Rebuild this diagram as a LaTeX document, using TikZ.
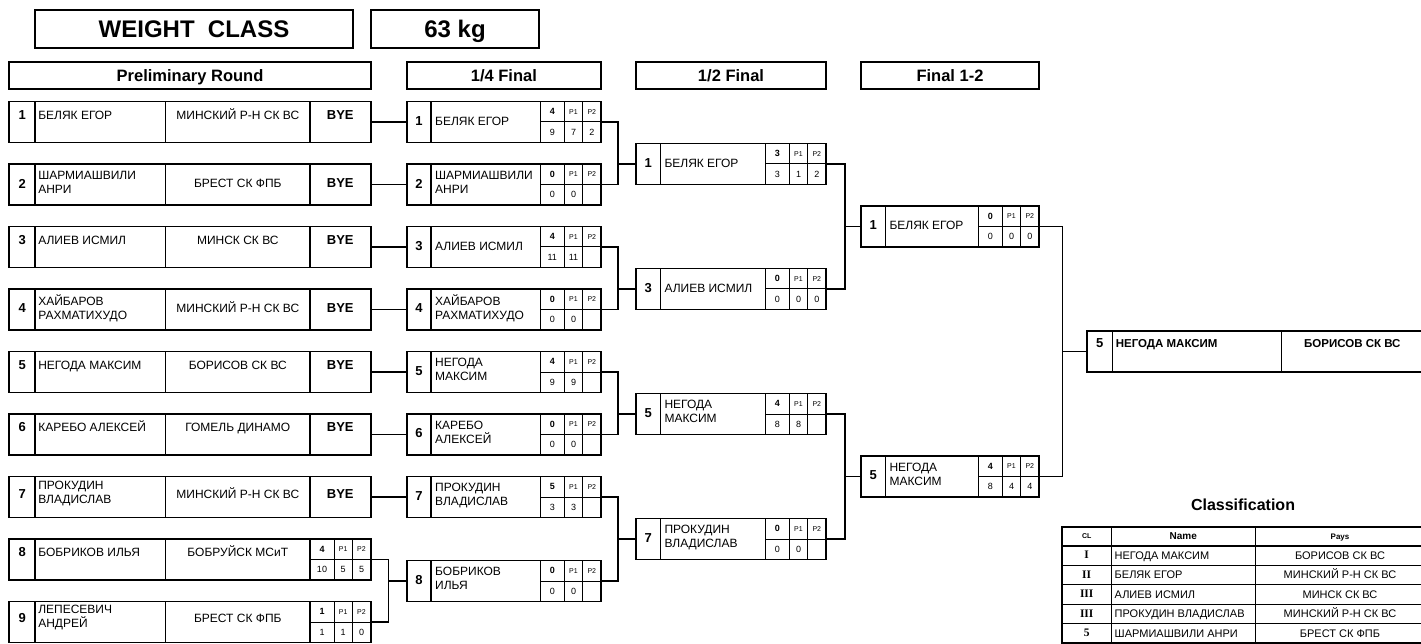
\documentclass[tikz,border=0pt]{standalone}
\usepackage{fontspec}
\setmainfont{Liberation Sans}
\newfontfamily\romfont{Liberation Serif}
\usepackage{tikz}
\usetikzlibrary{calc,positioning}

% one bout: frame, seed cell and fighter name
\newcommand{\bout}[6]{%
  \node[boutbox, minimum width=#4] (#1) at (#2,#3) {};
  \draw[div] ($(#1.north west)+(24.5,0)$) -- ($(#1.south west)+(24.5,0)$);
  \node[num] (#1-no) at ($(#1.west)+(12.25,-1)$) {#5};
  \node[nm]  (#1-nm) at ($(#1.west)+(28.5,-1)$) {#6};
}
% score grid at the right end of a box
\newcommand{\score}[5]{%
  \coordinate (#1-s) at ($(#1.north east)+(-60.7,0)$);
  \draw[div]  (#1-s) -- (#1-s |- #1.south);
  \draw[grid] (#1-s |- #1.center) -- (#1.east);
  \draw[grid] ($(#1-s)+(24,0)$) -- ($(#1-s |- #1.south)+(24,0)$);
  \draw[grid] ($(#1-s)+(42.3,0)$) -- ($(#1-s |- #1.south)+(42.3,0)$);
  \node[scb] (#1-pt) at ($(#1-s)+(12,10.3)$)   {#2};
  \node[pp]  (#1-h1) at ($(#1-s)+(33.2,10.3)$) {P1};
  \node[pp]  (#1-h2) at ($(#1-s)+(51.5,10.3)$) {P2};
  \node[sc]  (#1-t)  at ($(#1-s)+(12,30.8)$)   {#3};
  \node[sc]  (#1-a)  at ($(#1-s)+(33.2,30.8)$) {#4};
  \node[sc]  (#1-b)  at ($(#1-s)+(51.5,30.8)$) {#5};
}
% preliminary row: seed, fighter, club
\newcommand{\prow}[6]{%
  \node[rowbox] (#1) at (9.3,#2) {};
  \draw[div] ($(#1.north west)+(25.7,0)$)  -- ($(#1.south west)+(25.7,0)$);
  \draw[div] ($(#1.north west)+(156.4,0)$) -- ($(#1.south west)+(156.4,0)$);
  \draw[div] ($(#1.north west)+(300.7,0)$) -- ($(#1.south west)+(300.7,0)$);
  \node[num] (#1-no) at ($(#1.west)+(12.9,#6)$) {#3};
  \node[nm]  (#1-nm) at ($(#1.west)+(29,#6)$) {#4};
  \node[nm, anchor=center] (#1-cl) at ($(#1.west)+(228.5,#6)$) {#5};
}

\begin{document}
\begin{tikzpicture}[x=1pt, y=-1pt,
  every node/.style={inner sep=0pt, outer sep=0pt},
  frame/.style={draw, line width=1.8pt, outer sep=0pt},
  rowbox/.style={frame, anchor=north west, minimum width=361.4pt, minimum height=41pt},
  boutbox/.style={frame, anchor=west, minimum height=41pt},
  div/.style={line width=1.5pt},
  grid/.style={line width=1pt},
  link/.style={line width=1.5pt},
  even/.style={execute at begin node=\vphantom{ЙДg}, execute at end node=\vphantom{ЙДg}},
  hdr/.style={frame, even, anchor=north west, minimum height=27pt,
              font=\fontsize{16.5}{16.5}\selectfont\bfseries},
  num/.style={font=\fontsize{13}{13}\selectfont\bfseries},
  bye/.style={font=\fontsize{13}{13}\selectfont\bfseries},
  nm/.style={even, anchor=west, align=left, font=\fontsize{12}{14}\selectfont},
  sc/.style={font=\fontsize{9}{9}\selectfont},
  scb/.style={font=\fontsize{9}{9}\selectfont\bfseries},
  pp/.style={font=\fontsize{7}{7}\selectfont},
  tb/.style={even, font=\fontsize{11}{11}\selectfont},
  rn/.style={font=\fontsize{11.5}{11.5}\romfont\bfseries},
]
\useasboundingbox (0,0) rectangle (1421,644);
\fill[white] (0,0) rectangle (1421,644);

%% headers
\node[hdr, minimum width=318pt, minimum height=38pt,
      font=\fontsize{24}{24}\selectfont\bfseries] (wc) at (35,10) {WEIGHT~~CLASS};
\node[hdr, minimum width=168pt, minimum height=38pt,
      font=\fontsize{24}{24}\selectfont\bfseries] (kg) at (371,10) {63 kg};
\node[hdr, minimum width=361.4pt] (pr) at (9.3,62)  {Preliminary Round};
\node[hdr, minimum width=194.3pt] (qf) at (406.7,62) {1/4 Final};
\node[hdr, minimum width=190pt]   (sf) at (636,62)   {1/2 Final};
\node[hdr, minimum width=178pt]   (fn) at (861,62)   {Final 1-2};

%% preliminary round
\foreach \i/\who/\club/\dy in {
    1/{БЕЛЯК ЕГОР}/{МИНСКИЙ Р-Н СК ВС}/-7,
    2/{ШАРМИАШВИЛИ\\АНРИ}/{БРЕСТ СК ФПБ}/-1,
    3/{АЛИЕВ ИСМИЛ}/{МИНСК СК ВС}/-7,
    4/{ХАЙБАРОВ\\РАХМАТИХУДО}/{МИНСКИЙ Р-Н СК ВС}/-1,
    5/{НЕГОДА МАКСИМ}/{БОРИСОВ СК ВС}/-7,
    6/{КАРЕБО АЛЕКСЕЙ}/{ГОМЕЛЬ ДИНАМО}/-7,
    7/{ПРОКУДИН\\ВЛАДИСЛАВ}/{МИНСКИЙ Р-Н СК ВС}/-3} {
  \pgfmathsetmacro\t{101.5+(\i-1)*62.5}
  \prow{r\i}{\t}{\i}{\who}{\club}{\dy}
  \node[bye] (r\i-bye) at ($(r\i.west)+(331,\dy)$) {BYE};
}
\prow{r8}{539}{8}{БОБРИКОВ ИЛЬЯ}{БОБРУЙСК МСиТ}{-7}
\score{r8}{4}{10}{5}{5}
\prow{r9}{601.5}{9}{ЛЕПЕСЕВИЧ\\АНДРЕЙ}{БРЕСТ СК ФПБ}{-4}
\score{r9}{1}{1}{1}{0}

%% 1/4 final
\foreach \i/\who/\p/\tt/\a/\b in {
    1/{БЕЛЯК ЕГОР}/4/9/7/2,
    2/{ШАРМИАШВИЛИ\\АНРИ}/0/0/0/{},
    3/{АЛИЕВ ИСМИЛ}/4/11/11/{},
    4/{ХАЙБАРОВ\\РАХМАТИХУДО}/0/0/0/{},
    5/{НЕГОДА\\МАКСИМ}/4/9/9/{},
    6/{КАРЕБО\\АЛЕКСЕЙ}/0/0/0/{},
    7/{ПРОКУДИН\\ВЛАДИСЛАВ}/5/3/3/{}} {
  \pgfmathsetmacro\yc{122+(\i-1)*62.5}
  \bout{q\i}{406.7}{\yc}{194.3pt}{\i}{\who}
  \score{q\i}{\p}{\tt}{\a}{\b}
}
\bout{q8}{406.7}{581}{194.3pt}{8}{БОБРИКОВ\\ИЛЬЯ}
\score{q8}{0}{0}{0}{}

%% 1/2 final
\bout{s1}{636}{164}{190pt}{1}{БЕЛЯК ЕГОР}          \score{s1}{3}{3}{1}{2}
\bout{s3}{636}{289}{190pt}{3}{АЛИЕВ ИСМИЛ}         \score{s3}{0}{0}{0}{0}
\bout{s5}{636}{414}{190pt}{5}{НЕГОДА\\МАКСИМ}      \score{s5}{4}{8}{8}{}
\bout{s7}{636}{539}{190pt}{7}{ПРОКУДИН\\ВЛАДИСЛАВ} \score{s7}{0}{0}{0}{}

%% final 1-2
\bout{f1}{861}{226.5}{178pt}{1}{БЕЛЯК ЕГОР}     \score{f1}{0}{0}{0}{0}
\bout{f5}{861}{476.5}{178pt}{5}{НЕГОДА\\МАКСИМ} \score{f5}{4}{8}{4}{4}

%% winner
\node[frame, anchor=west, minimum width=335.7pt, minimum height=40.6pt] (w) at (1087.3,351.5) {};
\draw[div] ($(w.north west)+(25,0)$)    -- ($(w.south west)+(25,0)$);
\draw[div] ($(w.north west)+(194.4,0)$) -- ($(w.south west)+(194.4,0)$);
\node[num] (w-no) at ($(w.west)+(12.5,-8)$) {5};
\node[nm, font=\fontsize{11.5}{13.5}\selectfont\bfseries] (w-nm) at ($(w.west)+(28.5,-8)$) {НЕГОДА МАКСИМ};
\node[nm, anchor=center, font=\fontsize{11.5}{13.5}\selectfont\bfseries] (w-cl) at ($(w.west)+(265,-8)$) {БОРИСОВ СК ВС};

%% connectors
\foreach \i in {1,...,7}
  \draw[link] (r\i.east) -- (q\i.west);
\draw[link] (r8.east) -- ++(17.6,0) |- (q8.west);
\draw[link] (r9.east) -- ++(17.6,0) |- (q8.west);
\foreach \a/\b/\s in {1/2/1, 3/4/3, 5/6/5, 7/8/7} {
  \draw[link] (q\a.east) -- ++(17,0) |- (s\s.west);
  \draw[link] (q\b.east) -- ++(17,0) |- (s\s.west);
}
\draw[link] (s1.east) -- ++(19,0) |- (f1.west);
\draw[link] (s3.east) -- ++(19,0) |- (f1.west);
\draw[link] (s5.east) -- ++(19,0) |- (f5.west);
\draw[link] (s7.east) -- ++(19,0) |- (f5.west);
\draw[link] (f1.east) -- ++(23.5,0) |- (w.west);
\draw[link] (f5.east) -- ++(23.5,0) |- (w.west);

%% classification
\node[font=\fontsize{16}{16}\selectfont\bfseries] (cls) at (1243,505) {Classification};
\node[frame, anchor=north west, minimum width=363.3pt, minimum height=116pt] (tab) at (1061.7,527) {};
\draw[line width=2.5pt] ($(tab.north west)+(0,19)$) -- ($(tab.north east)+(0,19)$);
\foreach \k in {1,...,4}
  \draw[grid] ($(tab.north west)+(0,19+19.4*\k)$) -- ($(tab.north east)+(0,19+19.4*\k)$);
\draw[grid] ($(tab.north west)+(50,0)$)    -- ($(tab.south west)+(50,0)$);
\draw[grid] ($(tab.north west)+(193.3,0)$) -- ($(tab.south west)+(193.3,0)$);
\node[font=\fontsize{7}{7}\selectfont\bfseries]   (tab-cl) at ($(tab.north west)+(25,9)$)    {CL};
\node[font=\fontsize{10}{10}\selectfont\bfseries] (tab-nm) at ($(tab.north west)+(121.6,9)$) {Name};
\node[font=\fontsize{8}{8}\selectfont\bfseries]   (tab-py) at ($(tab.north west)+(278.3,11)$) {Pays};
\foreach \k/\cl/\who/\club in {
    0/I/{НЕГОДА МАКСИМ}/{БОРИСОВ СК ВС},
    1/II/{БЕЛЯК ЕГОР}/{МИНСКИЙ Р-Н СК ВС},
    2/III/{АЛИЕВ ИСМИЛ}/{МИНСК СК ВС},
    3/III/{ПРОКУДИН ВЛАДИСЛАВ}/{МИНСКИЙ Р-Н СК ВС},
    4/5/{ШАРМИАШВИЛИ АНРИ}/{БРЕСТ СК ФПБ}} {
  \node[rn] (c\k-cl) at ($(tab.north west)+(25,28.2+19.4*\k)$) {\cl};
  \node[tb, anchor=west] (c\k-nm) at ($(tab.north west)+(53,28.7+19.4*\k)$) {\who};
  \node[tb] (c\k-py) at ($(tab.north west)+(278.3,28.7+19.4*\k)$) {\club};
}
\end{tikzpicture}
\end{document}
